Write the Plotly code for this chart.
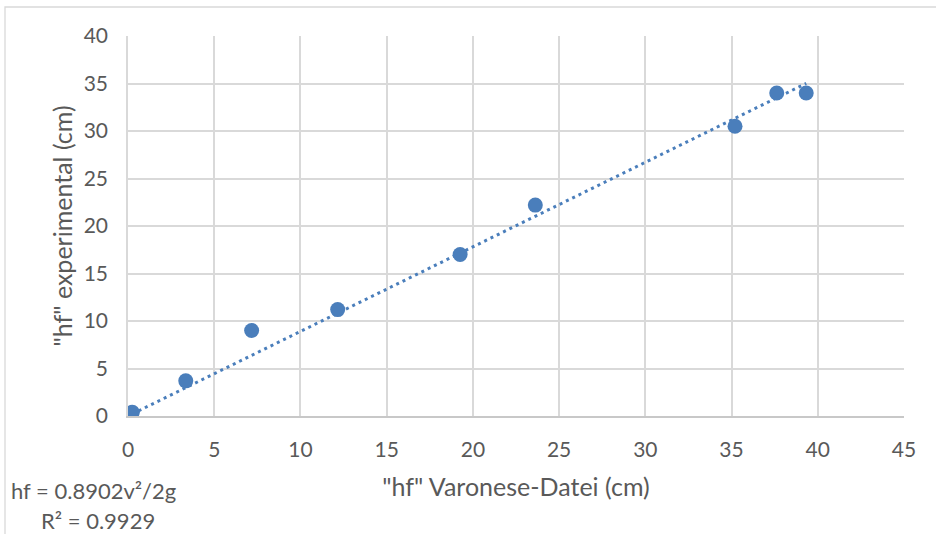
import plotly.graph_objects as go

# Measured friction head: Varonese-Datei prediction vs. experiment (cm)
hf_varonese = [0.25, 3.35, 7.17, 12.16, 19.26, 23.62, 35.2, 37.62, 39.33]
hf_experimental = [0.4, 3.7, 9.0, 11.2, 17.0, 22.2, 30.5, 34.0, 34.0]

# Linear trendline through the origin
slope = 0.8902
r_squared = 0.9929

x_ticks = [0, 5, 10, 15, 20, 25, 30, 35, 40, 45]
y_ticks = [0, 5, 10, 15, 20, 25, 30, 35, 40]

blue = "#4A7EBB"
grid = "#D9D9D9"
text_color = "#595959"
font_family = "Lato, Calibri, Carlito, sans-serif"

trend_x = [min(hf_varonese), max(hf_varonese)]
trend_y = [slope * v for v in trend_x]

fig = go.Figure()
fig.add_trace(go.Scatter(
    x=trend_x, y=trend_y, mode="lines",
    line=dict(color=blue, width=3, dash="3px,4px"),
    hoverinfo="skip", showlegend=False,
))
fig.add_trace(go.Scatter(
    x=hf_varonese, y=hf_experimental, mode="markers",
    marker=dict(color=blue, size=15, line=dict(width=0)),
    showlegend=False,
))

W, H = 936, 534
L, R, T, B = 128, 32, 36, 118
pw, ph = W - L - R, H - T - B

def px_x(p):
    return (p - L) / pw

def px_y(p):
    return (H - B - p) / ph

fig.update_layout(
    width=W, height=H,
    margin=dict(l=L, r=R, t=T, b=B),
    paper_bgcolor="white", plot_bgcolor="white",
    font=dict(family=font_family, size=21, color=text_color),
    xaxis=dict(
        range=[0, 45], tickvals=x_ticks, showgrid=True, gridcolor=grid, gridwidth=1.6,
        zeroline=False, showline=True, linecolor="#C8C8C8", linewidth=1.6,
        ticks="", ticklabelstandoff=14,
        title=dict(text='"hf" Varonese-Datei (cm)', standoff=18),
    ),
    yaxis=dict(
        range=[0, 40], tickvals=y_ticks, showgrid=True, gridcolor=grid, gridwidth=1.6,
        zeroline=False, showline=True, linecolor=grid, linewidth=1.6,
        ticks="", ticklabelstandoff=14,
        title=dict(text='"hf" experimental (cm)', standoff=4),
    ),
    shapes=[dict(
        type="rect", xref="paper", yref="paper",
        x0=px_x(5), x1=px_x(W + 20), y0=px_y(H + 20), y1=px_y(7),
        line=dict(color="#D9D9D9", width=1.3), fillcolor="rgba(0,0,0,0)", layer="below",
    )],
    annotations=[
        dict(text=f"hf = {slope}v²/2g", xref="paper", yref="paper",
             x=px_x(9), y=px_y(490), xanchor="left", yanchor="middle",
             showarrow=False, font=dict(size=22)),
        dict(text=f"R² = {r_squared}", xref="paper", yref="paper",
             x=px_x(39), y=px_y(520), xanchor="left", yanchor="middle",
             showarrow=False, font=dict(size=22)),
    ],
)

fig.write_html("out.html")
